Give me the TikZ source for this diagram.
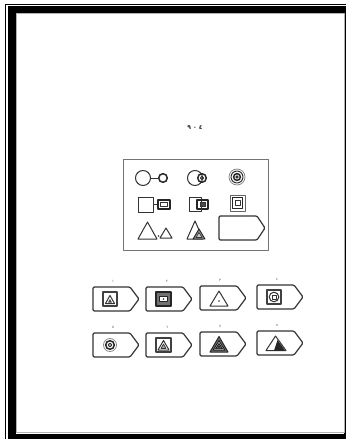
\documentclass[tikz,border=0pt]{standalone}
\usepackage{fontspec}
\newfontfamily\arab{DejaVu Sans}
\begin{document}
\begin{tikzpicture}[x=1pt,y=-1pt, line join=round,
  shp/.style={draw=black!80, line width=1pt},
  thk/.style={draw=black!85, line width=1.5pt},
  frm/.style={draw=black!75, line width=1.4pt},
  tagshape/.style={draw=black!80, line width=1.2pt, rounded corners=1.2pt},
  lbl/.style={font=\arab\fontsize{3.5}{4}\selectfont, inner sep=0pt, text=black!70},
  ttl/.style={font=\arab\bfseries\fontsize{6}{7}\selectfont, inner sep=0pt, text=black!85},
]
\useasboundingbox (0,0) rectangle (346,439);
% page frame
\fill[black] (8,6) rectangle (346,439);
\fill[white] (15.5,12.5) rectangle (344,433.5);
\draw[gray!60, line width=1pt] (16.5,13.5) rectangle (344.5,432.5);
\draw[black, line width=0.8pt] (5.5,439) -- (5.5,4) -- (346,4);

% title
\node[ttl] (title) at (195,128) {٩ ٠ ٤};

% question box
\draw[draw=black!55, line width=0.8pt] (123,159) rectangle (268,250);
% row 1
\draw[shp] (143,178) circle (7.5);
\draw[thk] (163,178) circle (4.3);
\draw[shp] (150.5,178) -- (158.7,178);
\draw[shp] (195,178) circle (7.5);
\draw[thk] (202,178) circle (4.3);
\draw[shp] (202,178) circle (1.6);
\draw[draw=black!50, line width=0.7pt] (237,177) circle (8);
\draw[shp] (237,177) circle (6);
\draw[thk] (237,177) circle (3.4);
\draw[shp] (237,177) circle (1.2);
% row 2
\draw[shp] (138,197) rectangle (153,212);
\draw[shp] (153,204.5) -- (158,204.5);
\draw[thk] (158,200) rectangle (170,209);
\draw[shp] (160.5,202.3) rectangle (167.5,206.7);
\draw[shp] (189,197) rectangle (201,211);
\draw[thk] (197,200) rectangle (208,209);
\draw[fill=black!70, draw=black!80] (200,202.5) rectangle (205,206.5);
\draw[draw=black!60, line width=0.8pt] (230,195) rectangle (245,211);
\draw[thk] (232.5,197.5) rectangle (242.5,208.5);
\draw[shp] (235,200.5) rectangle (240,205.5);
% row 3
\draw[shp] (138,239) -- (157,239) -- (147.5,222) -- cycle;
\fill[black!80] (158.5,236) circle (0.8);
\draw[shp] (160,238) -- (172,238) -- (166,228) -- cycle;
\draw[shp] (187,239) -- (203,239) -- (195,221) -- cycle;
\draw[draw=black!85, fill=black!45, line width=0.9pt] (193,239) -- (205,239) -- (199,229) -- cycle;
\draw[draw=black!80, fill=black!20, line width=0.6pt] (196,237.5) -- (202,237.5) -- (199,232.5) -- cycle;
\draw[tagshape] (219,216) -- (257,216) -- (265,228) -- (257,240) -- (219,240) -- cycle;

% options row A
\begin{scope}[shift={(93,287)}]
  \draw[tagshape] (0,0) -- (37,0) -- (46,12) -- (37,24) -- (0,24) -- cycle;
  \node[lbl] (la1) at (20,-6) {١};
  \draw[frm] (10,5) rectangle (24,19);
  \draw[shp] (12.5,16.5) -- (21.5,16.5) -- (17,8.5) -- cycle;
  \fill[black!70] (15,15.5) -- (19,15.5) -- (17,12) -- cycle;
\end{scope}
\begin{scope}[shift={(146,287)}]
  \draw[tagshape] (0,0) -- (37,0) -- (46,12) -- (37,24) -- (0,24) -- cycle;
  \node[lbl] (la2) at (21,-6) {٢};
  \fill[black!55] (10,5) rectangle (25,19);
  \draw[draw=black!85, line width=1.6pt] (10,5) rectangle (25,19);
  \draw[fill=white, draw=black!85, line width=0.7pt] (13.5,9.5) rectangle (21.5,14.5);
  \fill[black!80] (17.5,12) circle (0.8);
\end{scope}
\begin{scope}[shift={(200,286)}]
  \draw[tagshape] (0,0) -- (37,0) -- (46,12) -- (37,24) -- (0,24) -- cycle;
  \node[lbl] (la3) at (20,-6) {٣};
  \draw[shp] (10,20) -- (28,20) -- (19,5) -- cycle;
  \fill[black!80] (19,15) circle (0.9);
\end{scope}
\begin{scope}[shift={(257,285)}]
  \draw[tagshape] (0,0) -- (37,0) -- (46,12) -- (37,24) -- (0,24) -- cycle;
  \node[lbl] (la4) at (20,-6) {٤};
  \draw[frm] (10,5) rectangle (24,19);
  \draw[shp] (17,12) circle (4.8);
  \draw[shp] (15,10) rectangle (19,14);
\end{scope}

% options row B
\begin{scope}[shift={(93,333)}]
  \draw[tagshape] (0,0) -- (37,0) -- (46,12) -- (37,24) -- (0,24) -- cycle;
  \node[lbl] (lb1) at (20,-6) {٥};
  \draw[draw=black!45, line width=0.8pt] (17,12) circle (6.5);
  \draw[thk] (17,12) circle (4.3);
  \draw[shp] (17,12) circle (1.8);
\end{scope}
\begin{scope}[shift={(146,333)}]
  \draw[tagshape] (0,0) -- (37,0) -- (46,12) -- (37,24) -- (0,24) -- cycle;
  \node[lbl] (lb2) at (21,-6) {٦};
  \draw[frm] (10,5) rectangle (25,19);
  \draw[shp] (12,17) -- (23,17) -- (17.5,7.5) -- cycle;
  \draw[draw=black!80, fill=black!35, line width=0.7pt] (15,15.5) -- (20,15.5) -- (17.5,11) -- cycle;
\end{scope}
\begin{scope}[shift={(200,332)}]
  \draw[tagshape] (0,0) -- (37,0) -- (46,12) -- (37,24) -- (0,24) -- cycle;
  \node[lbl] (lb3) at (20,-6) {٧};
  \draw[draw=black!85, fill=black!55, line width=1pt] (10,20) -- (28,20) -- (19,4.5) -- cycle;
  \draw[draw=black!90, fill=black!30, line width=0.8pt] (13,18.3) -- (25,18.3) -- (19,8.5) -- cycle;
  \draw[draw=black!90, fill=black!60, line width=0.7pt] (15.5,16.8) -- (22.5,16.8) -- (19,11.5) -- cycle;
  \fill[black!90] (19,14.8) circle (1);
\end{scope}
\begin{scope}[shift={(257,331)}]
  \draw[tagshape] (0,0) -- (37,0) -- (46,12) -- (37,24) -- (0,24) -- cycle;
  \node[lbl] (lb4) at (20,-6) {٨};
  \draw[shp] (9,19.5) -- (29,19.5) -- (18.5,5) -- cycle;
  \fill[black!85] (17,19.5) -- (28,19.5) -- (20.5,9) -- cycle;
\end{scope}
\end{tikzpicture}
\end{document}
